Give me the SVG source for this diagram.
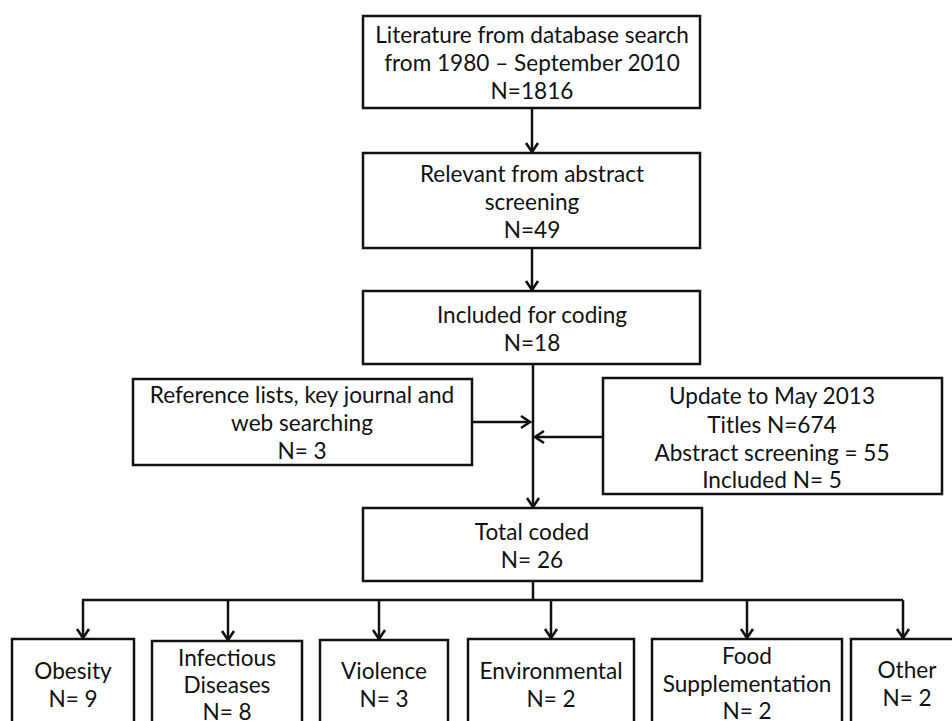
<svg xmlns="http://www.w3.org/2000/svg" width="952" height="721" viewBox="0 0 952 721">
<style>
.box{fill:#fff;stroke:#111;stroke-width:2.5}
.t{font-family:Lato,"Open Sans","Liberation Sans",sans-serif;font-size:22.6px;fill:#111;text-anchor:middle}
.c{fill:none;stroke:#111;stroke-width:2.5}
</style>
<defs>
<marker id="ah" markerUnits="userSpaceOnUse" markerWidth="14" markerHeight="16" viewBox="-2 -8 14 16" refX="10" refY="0" orient="auto">
<path d="M1,-6 L10,0 L1,6" fill="none" stroke="#111" stroke-width="2.5"/>
</marker>
</defs>
<rect width="952" height="721" fill="#fff"/>
<g id="connectors">
<line class="c" x1="532" y1="108" x2="532" y2="152" marker-end="url(#ah)"/>
<line class="c" x1="532" y1="248" x2="532" y2="290" marker-end="url(#ah)"/>
<line class="c" x1="533" y1="364" x2="533" y2="507" marker-end="url(#ah)"/>
<line class="c" x1="472" y1="422" x2="530" y2="422" marker-end="url(#ah)"/>
<line class="c" x1="603" y1="437" x2="535" y2="437" marker-end="url(#ah)"/>
<polyline class="c" points="533,581 533,600"/>
<polyline class="c" points="82,600 903,600"/>
<line class="c" x1="83" y1="600" x2="83" y2="638" marker-end="url(#ah)"/>
<line class="c" x1="228" y1="600" x2="228" y2="640" marker-end="url(#ah)"/>
<line class="c" x1="379" y1="600" x2="379" y2="639" marker-end="url(#ah)"/>
<line class="c" x1="551" y1="600" x2="551" y2="638" marker-end="url(#ah)"/>
<line class="c" x1="747" y1="600" x2="747" y2="638" marker-end="url(#ah)"/>
<line class="c" x1="903" y1="600" x2="903" y2="638" marker-end="url(#ah)"/>
</g>
<g id="n-literature">
<rect class="box" x="363" y="16" width="337" height="92"/>
<text class="t" x="532" y="43">Literature from database search</text>
<text class="t" x="532" y="71">from 1980 – September 2010</text>
<text class="t" x="532" y="99">N=1816</text>
</g>
<g id="n-relevant">
<rect class="box" x="363" y="153" width="337" height="95"/>
<text class="t" x="532" y="182">Relevant from abstract</text>
<text class="t" x="532" y="210">screening</text>
<text class="t" x="532" y="238">N=49</text>
</g>
<g id="n-included">
<rect class="box" x="363" y="291" width="337" height="73"/>
<text class="t" x="532" y="323">Included for coding</text>
<text class="t" x="532" y="351">N=18</text>
</g>
<g id="n-reference">
<rect class="box" x="133" y="379" width="339" height="86"/>
<text class="t" x="302" y="403">Reference lists, key journal and</text>
<text class="t" x="302" y="431">web searching</text>
<text class="t" x="302" y="459">N= 3</text>
</g>
<g id="n-update">
<rect class="box" x="603" y="378" width="339" height="116"/>
<text class="t" x="772" y="404">Update to May 2013</text>
<text class="t" x="772" y="433">Titles N=674</text>
<text class="t" x="772" y="461">Abstract screening = 55</text>
<text class="t" x="772" y="488">Included N= 5</text>
</g>
<g id="n-total">
<rect class="box" x="363" y="508" width="339" height="73"/>
<text class="t" x="532" y="540">Total coded</text>
<text class="t" x="532" y="568">N= 26</text>
</g>
<g id="n-obesity">
<rect class="box" x="12" y="639" width="122" height="100"/>
<text class="t" x="73" y="679">Obesity</text>
<text class="t" x="73" y="707">N= 9</text>
</g>
<g id="n-infectious">
<rect class="box" x="152" y="641" width="150" height="100"/>
<text class="t" x="227" y="666">Infectious</text>
<text class="t" x="227" y="693">Diseases</text>
<text class="t" x="227" y="720">N= 8</text>
</g>
<g id="n-violence">
<rect class="box" x="320" y="640" width="128" height="100"/>
<text class="t" x="384" y="679">Violence</text>
<text class="t" x="384" y="707">N= 3</text>
</g>
<g id="n-environmental">
<rect class="box" x="468" y="639" width="166" height="100"/>
<text class="t" x="551" y="679">Environmental</text>
<text class="t" x="551" y="707">N= 2</text>
</g>
<g id="n-food">
<rect class="box" x="652" y="639" width="190" height="100"/>
<text class="t" x="747" y="664">Food</text>
<text class="t" x="747" y="692">Supplementation</text>
<text class="t" x="747" y="719">N= 2</text>
</g>
<g id="n-other">
<rect class="box" x="851" y="639" width="112" height="100"/>
<text class="t" x="907" y="678">Other</text>
<text class="t" x="907" y="706">N= 2</text>
</g>
</svg>
